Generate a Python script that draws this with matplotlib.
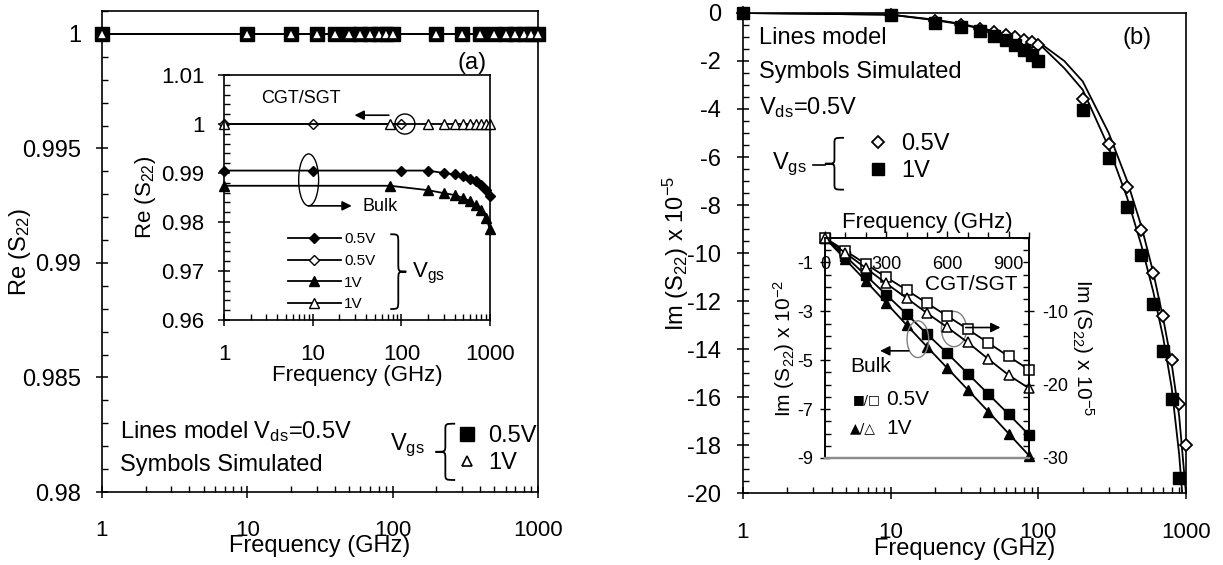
import matplotlib
matplotlib.use("Agg")
import matplotlib.pyplot as plt
from matplotlib.path import Path
from matplotlib.patches import PathPatch, Ellipse
from matplotlib.ticker import MultipleLocator, FixedLocator, NullFormatter

plt.rcParams.update({
    "font.family": "Liberation Sans",
    "mathtext.fontset": "custom",
    "mathtext.rm": "Liberation Sans",
    "mathtext.it": "Liberation Sans:italic",
    "mathtext.bf": "Liberation Sans:bold",
    "axes.linewidth": 1.2,
    "lines.linewidth": 1.3,
})

# ---------------- panel (a): main ----------------
freq_a = [1, 10, 20, 30, 40, 50, 60, 70, 80, 90, 100,
          200, 300, 400, 500, 600, 700, 800, 900, 1000]
re_model_05 = [1.0, 1.0, 1.0, 1.0, 1.0, 1.0, 1.0, 1.0, 1.0, 1.0, 1.0,
               1.0, 1.0, 1.0, 1.0, 1.0, 1.0, 1.0, 1.0, 1.0]
re_model_1 = [1.0, 1.0, 1.0, 1.0, 1.0, 1.0, 1.0, 1.0, 1.0, 1.0, 1.0,
              1.0, 1.0, 1.0, 1.0, 1.0, 1.0, 1.0, 1.0, 1.0]
re_sim_05 = [1.0, 1.0, 1.0, 1.0, 1.0, 1.0, 1.0, 1.0, 1.0, 1.0, 1.0,
             1.0, 1.0, 1.0, 1.0, 1.0, 1.0, 1.0, 1.0, 1.0]
re_sim_1 = [1.0, 1.0, 1.0, 1.0, 1.0, 1.0, 1.0, 1.0, 1.0, 1.0, 1.0,
            1.0, 1.0, 1.0, 1.0, 1.0, 1.0, 1.0, 1.0, 1.0]
yticks_a = [0.98, 0.985, 0.99, 0.995, 1.0]
yticklabels_a = ["0.98", "0.985", "0.99", "0.995", "1"]
log_ticks = [1, 10, 100, 1000]
log_ticklabels = ["1", "10", "100", "1000"]

# ---------------- panel (a): inset ----------------
bulk_f_05 = [1, 10, 100, 200, 300, 400, 500, 600, 700, 800, 900, 1000]
bulk_re_05 = [0.9905, 0.9905, 0.9905, 0.9905, 0.9900, 0.9897, 0.9893,
              0.9888, 0.9883, 0.9875, 0.9866, 0.9854]
bulk_f_1 = [1, 75, 200, 300, 400, 500, 600, 700, 800, 900, 1000]
bulk_re_1 = [0.9874, 0.9874, 0.9865, 0.9859, 0.9855, 0.9849, 0.9842,
             0.9834, 0.9824, 0.9808, 0.9785]
cgt_f_05 = [1, 10, 100]
cgt_re_05 = [1.0, 1.0, 1.0]
cgt_f_1 = [1, 75, 200, 300, 400, 500, 600, 700, 800, 900, 1000]
cgt_re_1 = [1.0, 1.0, 1.0, 1.0, 1.0, 1.0, 1.0, 1.0, 1.0, 1.0, 1.0]
yticks_ai = [0.96, 0.97, 0.98, 0.99, 1.0, 1.01]
yticklabels_ai = ["0.96", "0.97", "0.98", "0.99", "1", "1.01"]

# ---------------- panel (b): main ----------------
freq_b_sim = [1, 10, 20, 30, 40, 50, 60, 70, 80, 90, 100,
              200, 300, 400, 500, 600, 700, 800, 900, 1000]
im_sim_05 = [0.0, -0.08, -0.33, -0.5, -0.65, -0.8, -0.92, -1.02, -1.12, -1.22, -1.35,
             -3.58, -5.44, -7.25, -9.03, -10.83, -12.62, -14.46, -16.28, -18.0]
freq_b_sim1 = [1, 10, 20, 30, 40, 50, 60, 70, 80, 90, 100,
               200, 300, 400, 500, 600, 700, 800, 900]
im_sim_1 = [0.0, -0.1, -0.4, -0.58, -0.76, -0.94, -1.14, -1.32, -1.53, -1.74, -2.0,
            -4.03, -6.04, -8.08, -10.07, -12.14, -14.1, -16.1, -19.38]
freq_b_model = [1, 10, 20, 30, 50, 70, 100, 150, 200, 300, 400, 500, 600, 700, 800, 900, 1000]
im_model_05 = [0.0, -0.07, -0.28, -0.45, -0.75, -0.98, -1.2, -2.0, -2.85,
               -5.0, -7.0, -8.9, -10.8, -12.7, -14.6, -16.8, -20.0]
im_model_1 = [0.0, -0.07, -0.3, -0.47, -0.78, -1.0, -1.25, -2.3, -3.2,
              -5.6, -7.7, -9.7, -11.6, -13.5, -15.6, -18.4, -22.0]
yticks_b = [0, -2, -4, -6, -8, -10, -12, -14, -16, -18, -20]
yticklabels_b = ["0", "-2", "-4", "-6", "-8", "-10", "-12", "-14", "-16", "-18", "-20"]

# ---------------- panel (b): inset ----------------
freq_bi = [0, 100, 200, 300, 400, 500, 600, 700, 800, 900, 1000]
bulk_im_05 = [0.0, -0.75, -1.53, -2.32, -3.11, -3.93, -4.72, -5.55, -6.38, -7.21, -8.05]
bulk_im_1 = [0.0, -0.88, -1.76, -2.66, -3.56, -4.45, -5.33, -6.21, -7.1, -8.0, -8.9]
cgt_im_05 = [0.0, -1.75, -3.55, -5.35, -7.1, -8.9, -10.65, -12.45, -14.3, -16.15, -17.95]
cgt_im_1 = [0.0, -2.05, -4.1, -6.2, -8.2, -10.25, -12.2, -14.25, -16.5, -18.7, -20.5]
xticks_bi = [0, 300, 600, 900]
yticks_bi = [-1, -3, -5, -7, -9]
yticks_bi_r = [-10, -20, -30]


def brace(ax, x_arm, x_tip, y0, y1, lw=1.3):
    """Curly brace in axes fraction; tip points from x_arm toward x_tip."""
    ym = (y0 + y1) / 2
    xm = (x_arm + x_tip) / 2
    d = 0.12 * (y1 - y0)
    verts = [(x_arm, y1), (xm, y1), (xm, y1), (xm, y1 - d),
             (xm, ym + d),
             (xm, ym), (xm, ym), (x_tip, ym),
             (xm, ym), (xm, ym), (xm, ym - d),
             (xm, y0 + d),
             (xm, y0), (xm, y0), (x_arm, y0)]
    codes = [Path.MOVETO, Path.CURVE4, Path.CURVE4, Path.CURVE4,
             Path.LINETO,
             Path.CURVE4, Path.CURVE4, Path.CURVE4,
             Path.CURVE4, Path.CURVE4, Path.CURVE4,
             Path.LINETO,
             Path.CURVE4, Path.CURVE4, Path.CURVE4]
    ax.add_patch(PathPatch(Path(verts, codes), transform=ax.transAxes,
                           fill=False, lw=lw, color="k", clip_on=False))


def style_ticks(ax, major_len=8, minor_len=4):
    ax.tick_params(which="major", direction="inout", length=major_len, width=1.1)
    ax.tick_params(which="minor", direction="in", length=minor_len, width=1.0)


def log_x(ax, fs, pad):
    ax.set_xscale("log")
    ax.set_xlim(1, 1000)
    ax.xaxis.set_major_locator(FixedLocator(log_ticks))
    ax.set_xticklabels(log_ticklabels, fontsize=fs)
    ax.xaxis.set_minor_locator(FixedLocator(
        [m * 10 ** e for e in range(0, 3) for m in range(2, 10)]))
    ax.xaxis.set_minor_formatter(NullFormatter())
    ax.tick_params(axis="x", which="major", pad=pad)


fig = plt.figure(figsize=(12.23, 5.65), dpi=100)

# ================= panel (a) main =================
axA = fig.add_axes([0.0834, 0.1292, 0.3565, 0.8513])
axA.plot(freq_a, re_model_05, color="k", lw=1.3)
axA.plot(freq_a, re_model_1, color="k", lw=1.3)
sqA, = axA.plot(freq_a, re_sim_05, ls="none", marker="s", ms=10, mfc="k", mec="k",
                clip_on=False, zorder=3)
trA, = axA.plot(freq_a, re_sim_1, ls="none", marker="^", ms=7.5, mfc="w", mec="k",
                mew=1.2, clip_on=False, zorder=4)
log_x(axA, 16, 16)
axA.set_ylim(0.98, 1.001)
axA.set_yticks(yticks_a)
axA.set_yticklabels(yticklabels_a, fontsize=17)
axA.yaxis.set_minor_locator(MultipleLocator(0.001))
style_ticks(axA)
axA.tick_params(axis="y", which="major", pad=11)
axA.set_xlabel("Frequency (GHz)", fontsize=17, labelpad=-4)
axA.set_ylabel("Re (S$_{22}$)", fontsize=17)
axA.yaxis.set_label_coords(-0.158, 0.5)
axA.text(0.849, 0.892, "(a)", transform=axA.transAxes, fontsize=17, ha="center", va="center")
axA.text(0.041, 0.125, "Lines model V$_{\\mathrm{ds}}$=0.5V", transform=axA.transAxes,
         fontsize=17, va="center")
axA.text(0.041, 0.056, "Symbols Simulated", transform=axA.transAxes, fontsize=17, va="center")
axA.text(0.661, 0.097, "V$_{\\mathrm{gs}}$", transform=axA.transAxes, fontsize=17, va="center")
brace(axA, 0.81, 0.765, 0.025, 0.142)
axA.legend(handles=[sqA, trA], labels=["0.5V", "1V"], loc="center left",
           bbox_to_anchor=(0.81, 0.088), frameon=False, handlelength=1.0,
           handletextpad=0.4, labelspacing=0.2, borderpad=0, borderaxespad=0,
           fontsize=17)

# ================= panel (a) inset =================
axAi = fig.add_axes([0.1832, 0.4336, 0.2175, 0.4336])
axAi.set_facecolor("white")
lb05, = axAi.plot(bulk_f_05, bulk_re_05, color="k", lw=1.3, marker="D", ms=5,
                  mfc="k", mec="k", clip_on=False)
lc05, = axAi.plot(cgt_f_05, cgt_re_05, color="k", lw=1.3, marker="D", ms=5,
                  mfc="w", mec="k", mew=1.0, clip_on=False)
lb1, = axAi.plot(bulk_f_1, bulk_re_1, color="k", lw=1.3, marker="^", ms=6.5,
                 mfc="k", mec="k", clip_on=False)
lc1, = axAi.plot(cgt_f_1, cgt_re_1, color="k", lw=1.3, marker="^", ms=6.5,
                 mfc="w", mec="k", mew=1.0, clip_on=False)
log_x(axAi, 16, 13)
axAi.set_ylim(0.96, 1.01)
axAi.set_yticks(yticks_ai)
axAi.set_yticklabels(yticklabels_ai, fontsize=16)
axAi.yaxis.set_minor_locator(MultipleLocator(0.002))
style_ticks(axAi)
axAi.tick_params(axis="y", which="major", pad=10)
axAi.set_xlabel("Frequency (GHz)", fontsize=16, labelpad=0)
axAi.set_ylabel("Re (S$_{22}$)", fontsize=16, labelpad=2)
axAi.text(0.14, 0.904, "CGT/SGT", transform=axAi.transAxes, fontsize=13, va="center")
axAi.annotate("", xy=(0.48, 0.836), xytext=(0.63, 0.836), xycoords="axes fraction",
              arrowprops=dict(arrowstyle="-|>", color="k", lw=1.2, mutation_scale=14))
axAi.add_patch(Ellipse((0.68, 0.8), 0.075, 0.082, transform=axAi.transAxes,
                       fill=False, lw=1.0, ec="k"))
axAi.add_patch(Ellipse((0.318, 0.572), 0.075, 0.212, transform=axAi.transAxes,
                       fill=False, lw=1.0, ec="k"))
axAi.annotate("", xy=(0.48, 0.466), xytext=(0.318, 0.466), xycoords="axes fraction",
              arrowprops=dict(arrowstyle="-|>", color="k", lw=1.2, mutation_scale=14,
                              shrinkA=0, shrinkB=0))
axAi.text(0.52, 0.462, "Bulk", transform=axAi.transAxes, fontsize=13, va="center")
axAi.legend(handles=[lb05, lc05, lb1, lc1], labels=["0.5V", "0.5V", "1V", "1V"],
            loc="center left", bbox_to_anchor=(0.239, 0.197), frameon=False,
            handlelength=3.5, handletextpad=0.2, labelspacing=0.5, borderpad=0,
            borderaxespad=0, fontsize=11)
brace(axAi, 0.625, 0.685, 0.045, 0.35)
axAi.text(0.705, 0.19, "V$_{\\mathrm{gs}}$", transform=axAi.transAxes, fontsize=16,
          va="center")

# ================= panel (b) main =================
axB = fig.add_axes([0.6075, 0.1274, 0.3622, 0.8496])
axB.plot(freq_b_model, im_model_05, color="k", lw=1.3)
axB.plot(freq_b_model, im_model_1, color="k", lw=1.3)
dmB, = axB.plot(freq_b_sim, im_sim_05, ls="none", marker="D", ms=6.5, mfc="w", mec="k",
                mew=1.3, clip_on=False, zorder=3)
sqB, = axB.plot(freq_b_sim1, im_sim_1, ls="none", marker="s", ms=9, mfc="k", mec="k",
                clip_on=False, zorder=4)
log_x(axB, 16, 17)
axB.set_ylim(-20, 0)
axB.set_yticks(yticks_b)
axB.set_yticklabels(yticklabels_b, fontsize=17)
axB.yaxis.set_minor_locator(MultipleLocator(0.5))
style_ticks(axB)
axB.tick_params(axis="y", which="major", pad=12)
axB.set_xlabel("Frequency (GHz)", fontsize=17, labelpad=-4)
axB.set_ylabel("Im (S$_{22}$) x 10$^{-5}$", fontsize=17)
axB.yaxis.set_label_coords(-0.118, 0.5)
axB.text(0.036, 0.948, "Lines model", transform=axB.transAxes, fontsize=17, va="center")
axB.text(0.036, 0.878, "Symbols Simulated", transform=axB.transAxes, fontsize=17,
         va="center")
axB.text(0.036, 0.802, "V$_{\\mathrm{ds}}$=0.5V", transform=axB.transAxes, fontsize=17,
         va="center")
axB.text(0.889, 0.948, "(b)", transform=axB.transAxes, fontsize=17, ha="center",
         va="center")
axB.text(0.065, 0.684, "V$_{\\mathrm{gs}}$", transform=axB.transAxes, fontsize=17,
         va="center")
axB.plot([0.158, 0.185], [0.684, 0.684], color="k", lw=1.2, transform=axB.transAxes)
brace(axB, 0.228, 0.185, 0.632, 0.74)
axB.legend(handles=[dmB, sqB], labels=["0.5V", "1V"], loc="center left",
           bbox_to_anchor=(0.278, 0.699), frameon=False, handlelength=1.0,
           handletextpad=0.5, labelspacing=0.2, borderpad=0, borderaxespad=0,
           fontsize=17)

# ================= panel (b) inset =================
axBi = fig.add_axes([0.6746, 0.1894, 0.1668, 0.3894])
axBi.set_facecolor("white")
axBi.plot(freq_bi, bulk_im_05, color="k", lw=1.3, marker="s", ms=6.5, mfc="k", mec="k",
          clip_on=False)
axBi.plot(freq_bi, bulk_im_1, color="k", lw=1.3, marker="^", ms=7, mfc="k", mec="k",
          clip_on=False)
axBi.set_xlim(0, 1000)
axBi.set_ylim(-9, 0)
axBi.xaxis.tick_top()
axBi.xaxis.set_label_position("top")
axBi.set_xticks(xticks_bi)
axBi.set_xticklabels([str(v) for v in xticks_bi], fontsize=13)
axBi.xaxis.set_minor_locator(MultipleLocator(100))
axBi.set_yticks(yticks_bi)
axBi.set_yticklabels([str(v) for v in yticks_bi], fontsize=13)
axBi.yaxis.set_minor_locator(MultipleLocator(0.5))
axBi.tick_params(which="major", direction="inout", length=7, width=1.0)
axBi.tick_params(which="minor", direction="in", length=4, width=1.0)
axBi.tick_params(axis="x", which="both", direction="out")
axBi.tick_params(axis="x", which="major", length=5, pad=-30)
axBi.tick_params(axis="y", which="major", pad=5)
axBi.spines["bottom"].set_color("#8c8c8c")
axBi.spines["bottom"].set_linewidth(1.6)
axBi.set_xlabel("Frequency (GHz)", fontsize=16, labelpad=0)
axBi.set_ylabel("Im (S$_{22}$) x 10$^{-2}$", fontsize=15, labelpad=0)

axBr = axBi.twinx()
axBr.plot(freq_bi, cgt_im_05, color="k", lw=1.3, marker="s", ms=6.5, mfc="w", mec="k",
          mew=1.1, clip_on=False)
axBr.plot(freq_bi, cgt_im_1, color="k", lw=1.3, marker="^", ms=7, mfc="w", mec="k",
          mew=1.1, clip_on=False)
axBr.set_ylim(-30, 0)
axBr.set_yticks(yticks_bi_r)
axBr.set_yticklabels([str(v) for v in yticks_bi_r], fontsize=13)
axBr.yaxis.set_minor_locator(MultipleLocator(10 / 6))
axBr.tick_params(which="major", direction="inout", length=7, width=1.0, pad=6)
axBr.tick_params(which="minor", direction="in", length=4, width=1.0)
axBr.spines["bottom"].set_color("#8c8c8c")
axBr.spines["bottom"].set_linewidth(1.6)
axBr.set_ylabel("Im (S$_{22}$) x 10$^{-5}$", fontsize=15, rotation=-90, labelpad=20)

axBr.text(0.49, 0.79, "CGT/SGT", transform=axBr.transAxes, fontsize=15, va="center")
axBr.add_patch(Ellipse((0.632, 0.586), 0.123, 0.16, transform=axBr.transAxes,
                       fill=False, lw=1.0, ec="#808080"))
axBr.annotate("", xy=(0.86, 0.593), xytext=(0.69, 0.593), xycoords="axes fraction",
              arrowprops=dict(arrowstyle="-|>", color="k", lw=1.2, mutation_scale=14,
                              shrinkA=0, shrinkB=0))
axBr.add_patch(Ellipse((0.455, 0.54), 0.106, 0.167, transform=axBr.transAxes,
                       fill=False, lw=1.0, ec="#808080"))
axBr.annotate("", xy=(0.27, 0.487), xytext=(0.41, 0.487), xycoords="axes fraction",
              arrowprops=dict(arrowstyle="-|>", color="k", lw=1.2, mutation_scale=14,
                              shrinkA=0, shrinkB=0))
axBr.text(0.125, 0.415, "Bulk", transform=axBr.transAxes, fontsize=15, va="center")
axBr.text(0.135, 0.265, "\u25a0/\u25a1", transform=axBr.transAxes, fontsize=9,
          va="center", family=["DejaVu Sans"])
axBr.text(0.3, 0.265, "0.5V", transform=axBr.transAxes, fontsize=15, va="center")
axBr.text(0.12, 0.135, "\u25b2/\u25b3", transform=axBr.transAxes, fontsize=10,
          va="center", family=["DejaVu Sans"])
axBr.text(0.3, 0.135, "1V", transform=axBr.transAxes, fontsize=15, va="center")

fig.savefig("out.png", dpi=100)
